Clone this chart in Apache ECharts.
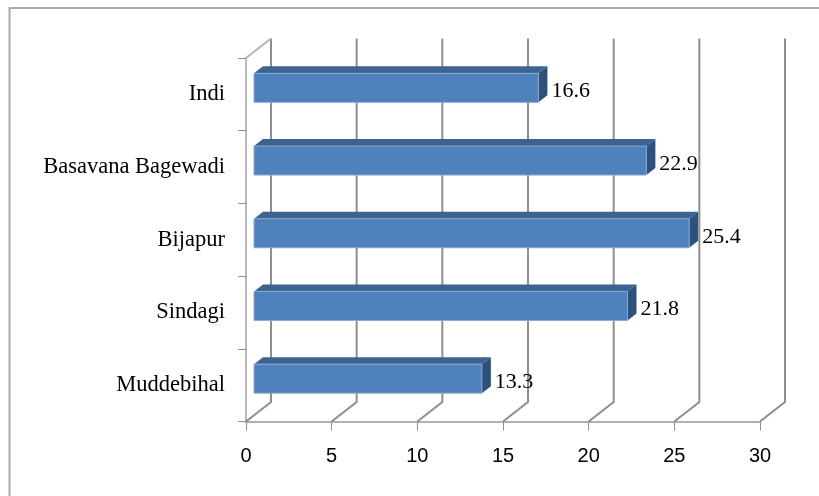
<!DOCTYPE html>
<html>
<head>
<meta charset="utf-8">
<style>
html, body { margin: 0; padding: 0; background: #fff; }
#main { width: 819px; height: 496px; }
</style>
<script src="https://cdn.jsdelivr.net/npm/echarts@6/dist/echarts.min.js"></script>
</head>
<body>
<div id="main"></div>
<script>
var categories = ['Muddebihal', 'Sindagi', 'Bijapur', 'Basavana Bagewadi', 'Indi'];
var values = [13.3, 21.8, 25.4, 22.9, 16.6];
var wallTicks = [0, 5, 10, 15, 20, 25, 30];

var myChart = echarts.init(document.getElementById('main'), null, { renderer: 'canvas' });

var serif = '"Liberation Serif", serif';
var lineGray = '#8e8e8e';

// back wall and floor of the fake 3d box
function renderWall(params, api) {
    var v = api.value(0);
    var cs = params.coordSys;
    var x = api.coord([v, 0])[0];
    var bottom = cs.y + cs.height;
    var dx = 25, dy = 19.5;
    var style = { stroke: lineGray, lineWidth: 2, fill: null };
    var children = [
        { type: 'polyline', shape: { points: [[x, bottom], [x + dx, bottom - dy], [x + dx, cs.y - dy]] }, style: style }
    ];
    if (v === 0) {
        children.push({ type: 'line', shape: { x1: x, y1: cs.y, x2: x + dx, y2: cs.y - dy }, style: { stroke: '#b5b5b5', lineWidth: 2 } });
    }
    return { type: 'group', children: children };
}

function renderBar(params, api) {
    var end = api.coord([api.value(0), api.value(1)]);
    var start = api.coord([0, api.value(1)]);
    var h = 29, depthX = 9, depthY = 7;
    var x0 = start[0] + 8, x1 = end[0] + 8;
    var top = end[1] - 21, bot = top + h;
    return {
        type: 'group',
        children: [
            { type: 'polygon', shape: { points: [[x0, top], [x0 + depthX, top - depthY], [x1 + depthX, top - depthY], [x1, top]] }, style: { fill: '#3d6391' } },
            { type: 'polygon', shape: { points: [[x1, top], [x1 + depthX, top - depthY], [x1 + depthX, bot - depthY], [x1, bot]] }, style: { fill: '#2f5179' } },
            { type: 'rect', shape: { x: x0, y: top, width: x1 - x0, height: h }, style: { fill: '#4f81bd', stroke: '#8aa9d2', lineWidth: 1 } },
            { type: 'text', style: { x: x1 + depthX + 4, y: end[1] - 3, text: api.value(0).toFixed(1), font: '22px ' + serif, fill: '#000', verticalAlign: 'middle', align: 'left' } }
        ]
    };
}

var option = {
    animation: false,
    backgroundColor: '#fff',
    grid: { left: 246, right: 59, top: 58, bottom: 74.5, containLabel: false },
    xAxis: {
        type: 'value',
        min: 0,
        max: 30,
        interval: 5,
        splitLine: { show: false },
        axisLine: { show: true, lineStyle: { color: '#b0b0b0', width: 2 } },
        axisTick: { show: true, length: 9, lineStyle: { color: lineGray, width: 1 } },
        axisLabel: { margin: 25, fontFamily: '"Liberation Sans", sans-serif', fontSize: 20, color: '#000' }
    },
    yAxis: {
        type: 'category',
        data: categories,
        axisLine: { show: true, lineStyle: { color: '#b9b9b9', width: 2 } },
        axisTick: { show: true, length: 8, lineStyle: { color: '#8e8e8e', width: 1 } },
        axisLabel: { margin: 21, fontFamily: serif, fontSize: 22.5, color: '#000' }
    },
    series: [
        {
            type: 'custom',
            renderItem: renderWall,
            data: wallTicks.map(function (v) { return [v, 0]; }),
            encode: { x: 0, y: 1 },
            clip: false,
            silent: true,
            z: 1
        },
        {
            type: 'custom',
            renderItem: renderBar,
            data: values.map(function (v, i) { return [v, i]; }),
            encode: { x: 0, y: 1 },
            clip: false,
            z: 3
        }
    ],
    graphic: [
        { type: 'polyline', silent: true, shape: { points: [[9.5, 496], [9.5, 8], [819, 8]] }, style: { stroke: '#ababab', lineWidth: 2, fill: null } }
    ]
};

myChart.setOption(option);

window.addEventListener('resize', function () {
    myChart.resize();
});
</script>
</body>
</html>
